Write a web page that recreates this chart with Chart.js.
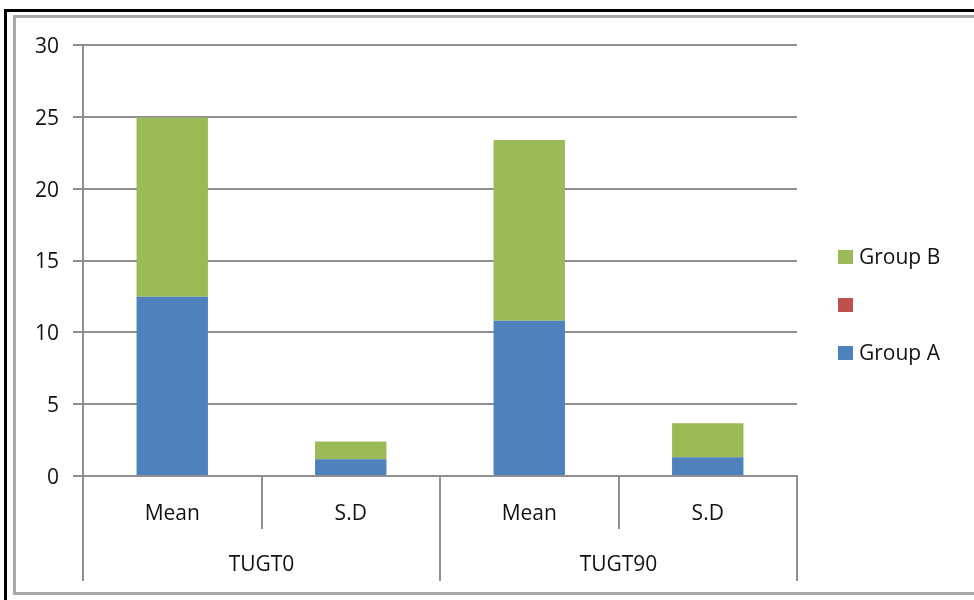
<!DOCTYPE html>
<html>
<head>
<meta charset="utf-8">
<script src="https://cdn.jsdelivr.net/npm/chart.js@4.4.1/dist/chart.umd.min.js"></script>
<style>
  html, body { margin: 0; padding: 0; background: #fff; overflow: hidden; }
  #outer { position: absolute; left: 4px; top: 9px; width: 1000px; height: 700px;
           border-left: 3px solid #000; border-top: 3px solid #000; }
  #inner { position: absolute; left: 13px; top: 15px; width: 1000px; height: 574px;
           border-left: 3px solid #a8a8a8; border-top: 3px solid #a8a8a8; border-bottom: 3px solid #a8a8a8; }
  #chart { position: absolute; left: 0; top: 0; }
</style>
</head>
<body>
<div id="outer"></div>
<div id="inner"></div>
<canvas id="chart" width="974" height="600"></canvas>
<script>
// Category labels (inner level) and their outer grouping
const categories = ['Mean', 'S.D', 'Mean', 'S.D'];
const groupLabels = ['TUGT0', 'TUGT90'];
const groupSize = 2;

// Stacked series values
const groupA = [12.48, 1.16, 10.81, 1.30];
const blankSeries = [0, 0, 0, 0];
const groupB = [12.48, 1.25, 12.57, 2.37];

// Value axis ticks
const yMin = 0, yMax = 30, yStep = 5;

const FONT = "'Open Sans', 'Liberation Sans', sans-serif";
const TEXT = '#111111';
const LINE = '#8f8f8f';

// Second-level category axis: separators and group captions
const multiLevelAxis = {
  id: 'multiLevelAxis',
  afterDraw(chart) {
    const x = chart.scales.x;
    const ctx = chart.ctx;
    const base = chart.chartArea.bottom;
    const n = categories.length;
    const half = (x.getPixelForValue(1) - x.getPixelForValue(0)) / 2;
    ctx.save();
    ctx.strokeStyle = LINE;
    ctx.lineWidth = 2;
    for (let i = 0; i <= n; i++) {
      const px = Math.round(i < n ? x.getPixelForValue(i) - half : x.getPixelForValue(n - 1) + half);
      const long = i % groupSize === 0;
      ctx.beginPath();
      ctx.moveTo(px, base);
      ctx.lineTo(px, base + (long ? 105 : 53));
      ctx.stroke();
    }
    ctx.fillStyle = TEXT;
    ctx.font = '21px ' + FONT;
    ctx.textAlign = 'center';
    ctx.textBaseline = 'middle';
    groupLabels.forEach((g, gi) => {
      const a = x.getPixelForValue(gi * groupSize);
      const b = x.getPixelForValue(gi * groupSize + groupSize - 1);
      ctx.fillText(g, (a + b) / 2, base + 89);
    });
    ctx.restore();
  }
};

// Legend on the right, listed top series first
const sideLegend = {
  id: 'sideLegend',
  afterDraw(chart) {
    const ctx = chart.ctx;
    const ds = chart.data.datasets.slice().reverse();
    const left = chart.chartArea.right + 41;
    const midY = (chart.chartArea.top + chart.chartArea.bottom) / 2 + 44;
    const step = 48;
    ctx.save();
    ctx.font = '21px ' + FONT;
    ctx.textBaseline = 'middle';
    ds.forEach((d, i) => {
      const cy = midY + (i - (ds.length - 1) / 2) * step;
      ctx.fillStyle = d.backgroundColor;
      ctx.fillRect(left, Math.round(cy - 7), 15, 14);
      ctx.fillStyle = TEXT;
      ctx.fillText(d.label, left + 21, cy + 2);
    });
    ctx.restore();
  }
};

new Chart(document.getElementById('chart'), {
  type: 'bar',
  data: {
    labels: categories,
    datasets: [
      { label: 'Group A', data: groupA, backgroundColor: '#4f81bd' },
      { label: '', data: blankSeries, backgroundColor: '#c0504d' },
      { label: 'Group B', data: groupB, backgroundColor: '#9bbb59' }
    ]
  },
  options: {
    responsive: false,
    animation: false,
    barPercentage: 0.4,
    categoryPercentage: 1,
    layout: { padding: { top: 45, left: 0, right: 177, bottom: 0 } },
    plugins: { legend: { display: false }, tooltip: { enabled: false } },
    scales: {
      x: {
        stacked: true,
        offset: true,
        grid: { display: false, drawTicks: false },
        border: { display: true, color: LINE, width: 2 },
        ticks: { color: TEXT, font: { family: FONT, size: 21 }, padding: 25, maxRotation: 0 },
        afterFit(axis) { axis.height = 124; }
      },
      y: {
        stacked: true,
        min: yMin, max: yMax,
        ticks: { stepSize: yStep, color: TEXT, font: { family: FONT, size: 21 }, padding: 14, labelOffset: 2 },
        grid: { color: LINE, lineWidth: 2, tickLength: 10 },
        border: { display: true, color: LINE, width: 2 },
        afterFit(axis) { axis.width = 83; }
      }
    }
  },
  plugins: [multiLevelAxis, sideLegend]
});
</script>
</body>
</html>
